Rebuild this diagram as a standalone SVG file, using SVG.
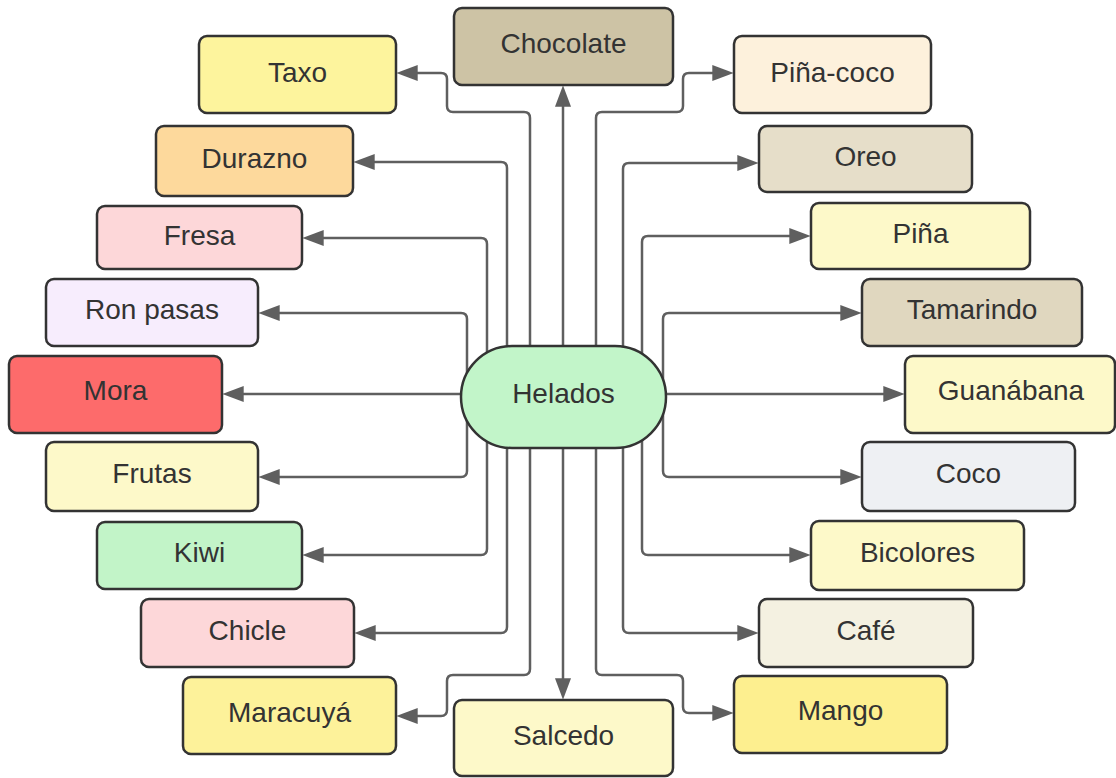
<svg xmlns="http://www.w3.org/2000/svg" width="1116" height="778" viewBox="0 0 1116 778">
  <style>
    .box { stroke: #333333; stroke-width: 2.5; }
    .lbl { font-family: "Liberation Sans", Arial, sans-serif; font-size: 28px; fill: #333333; text-anchor: middle; }
    .wire { fill: none; stroke: #5f5f5f; stroke-width: 2.5; marker-end: url(#head); }
  </style>
  <defs>
    <marker id="head" markerUnits="userSpaceOnUse" markerWidth="22" markerHeight="16" viewBox="0 0 20 15" refX="10" refY="7.5" orient="auto">
      <path d="M0,0 L20,7.5 L0,15 z" fill="#5f5f5f"/>
    </marker>
  </defs>
  <rect width="1116" height="778" fill="#ffffff"/>

  <!-- connectors: all start under the central node -->
  <g id="connectors">
    <!-- left side -->
    <path class="wire" d="M530,397 V118 Q530,112 524,112 H453 Q447,112 447,106 V79 Q447,73 441,73 H407"/>
    <path class="wire" d="M507,397 V168 Q507,162 501,162 H364"/>
    <path class="wire" d="M487,397 V244 Q487,238 481,238 H313"/>
    <path class="wire" d="M467,397 V319 Q467,313 461,313 H269"/>
    <path class="wire" d="M512,394 H233"/>
    <path class="wire" d="M467,397 V471 Q467,477 461,477 H269"/>
    <path class="wire" d="M487,397 V549 Q487,555 481,555 H313"/>
    <path class="wire" d="M507,397 V627 Q507,633 501,633 H365"/>
    <path class="wire" d="M530,397 V669 Q530,675 524,675 H453 Q447,675 447,681 V710 Q447,716 441,716 H407"/>
    <!-- straight up / down -->
    <path class="wire" d="M563,397 V96"/>
    <path class="wire" d="M563,397 V689"/>
    <!-- right side -->
    <path class="wire" d="M596,397 V118 Q596,112 602,112 H677 Q683,112 683,106 V79 Q683,73 689,73 H723"/>
    <path class="wire" d="M623,397 V169 Q623,163 629,163 H748"/>
    <path class="wire" d="M642,397 V242 Q642,236 648,236 H800"/>
    <path class="wire" d="M663,397 V319 Q663,313 669,313 H851"/>
    <path class="wire" d="M614,394 H894"/>
    <path class="wire" d="M663,397 V471 Q663,477 669,477 H851"/>
    <path class="wire" d="M642,397 V549 Q642,555 648,555 H800"/>
    <path class="wire" d="M623,397 V627 Q623,633 629,633 H748"/>
    <path class="wire" d="M596,397 V669 Q596,675 602,675 H677 Q683,675 683,681 V707 Q683,713 689,713 H723"/>
  </g>

  <g id="helados">
    <rect class="box" x="461" y="346" width="205" height="102" rx="51" fill="#c2f5c9"/>
    <text class="lbl" x="563.5" y="403">Helados</text>
  </g>

  <g id="chocolate">
    <rect class="box" x="454" y="8" width="219" height="77" rx="8" fill="#cdc3a5"/>
    <text class="lbl" x="563.5" y="53">Chocolate</text>
  </g>
  <g id="taxo">
    <rect class="box" x="199" y="36" width="197" height="77" rx="8" fill="#fdf49d"/>
    <text class="lbl" x="297.5" y="82">Taxo</text>
  </g>
  <g id="pina-coco">
    <rect class="box" x="734" y="36" width="197" height="77" rx="8" fill="#fdf1dc"/>
    <text class="lbl" x="832.5" y="82">Piña-coco</text>
  </g>
  <g id="durazno">
    <rect class="box" x="156" y="126" width="197" height="70" rx="8" fill="#fdd99c"/>
    <text class="lbl" x="254.5" y="168">Durazno</text>
  </g>
  <g id="oreo">
    <rect class="box" x="759" y="126" width="213" height="66" rx="8" fill="#e6dec9"/>
    <text class="lbl" x="865.5" y="166">Oreo</text>
  </g>
  <g id="fresa">
    <rect class="box" x="97" y="206" width="205" height="63" rx="8" fill="#fdd7d9"/>
    <text class="lbl" x="199.5" y="245">Fresa</text>
  </g>
  <g id="pina">
    <rect class="box" x="811" y="203" width="219" height="66" rx="8" fill="#fdf9c9"/>
    <text class="lbl" x="920.5" y="243">Piña</text>
  </g>
  <g id="ron-pasas">
    <rect class="box" x="46" y="279" width="212" height="67" rx="8" fill="#f7edfd"/>
    <text class="lbl" x="152" y="319">Ron pasas</text>
  </g>
  <g id="tamarindo">
    <rect class="box" x="862" y="279" width="220" height="67" rx="8" fill="#e0d7bf"/>
    <text class="lbl" x="972" y="319">Tamarindo</text>
  </g>
  <g id="mora">
    <rect class="box" x="9" y="356" width="213" height="77" rx="8" fill="#fd6b6b"/>
    <text class="lbl" x="115.5" y="400">Mora</text>
  </g>
  <g id="guanabana">
    <rect class="box" x="905" y="356" width="210" height="77" rx="8" fill="#fdf9c9"/>
    <text class="lbl" x="1011" y="400">Guanábana</text>
  </g>
  <g id="frutas">
    <rect class="box" x="46" y="442" width="212" height="69" rx="8" fill="#fdf9c9"/>
    <text class="lbl" x="152" y="483">Frutas</text>
  </g>
  <g id="coco">
    <rect class="box" x="862" y="442" width="213" height="69" rx="8" fill="#eef0f3"/>
    <text class="lbl" x="968.5" y="483">Coco</text>
  </g>
  <g id="kiwi">
    <rect class="box" x="97" y="522" width="205" height="67" rx="8" fill="#c2f4c8"/>
    <text class="lbl" x="199.5" y="562">Kiwi</text>
  </g>
  <g id="bicolores">
    <rect class="box" x="811" y="521" width="213" height="69" rx="8" fill="#fdf9c9"/>
    <text class="lbl" x="917.5" y="562">Bicolores</text>
  </g>
  <g id="chicle">
    <rect class="box" x="141" y="599" width="213" height="68" rx="8" fill="#fdd7d9"/>
    <text class="lbl" x="247.5" y="640">Chicle</text>
  </g>
  <g id="cafe">
    <rect class="box" x="759" y="599" width="214" height="68" rx="8" fill="#f4f1e1"/>
    <text class="lbl" x="866" y="640">Café</text>
  </g>
  <g id="maracuya">
    <rect class="box" x="183" y="677" width="213" height="77" rx="8" fill="#fdf29a"/>
    <text class="lbl" x="289.5" y="722">Maracuyá</text>
  </g>
  <g id="salcedo">
    <rect class="box" x="454" y="700" width="219" height="76" rx="8" fill="#fdf9c9"/>
    <text class="lbl" x="563.5" y="745">Salcedo</text>
  </g>
  <g id="mango">
    <rect class="box" x="734" y="676" width="213" height="77" rx="8" fill="#fdef8f"/>
    <text class="lbl" x="840.5" y="720">Mango</text>
  </g>
</svg>
